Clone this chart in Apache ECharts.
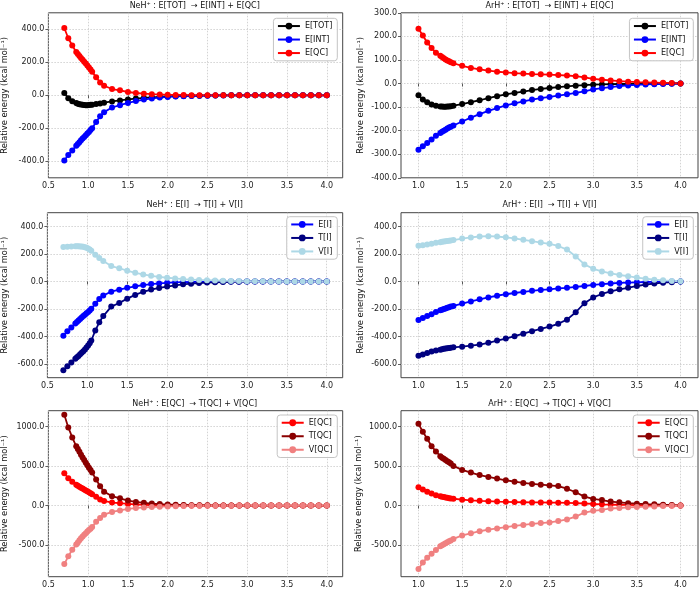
<!DOCTYPE html>
<html><head><meta charset="utf-8">
<script src="https://cdn.jsdelivr.net/npm/echarts@6/dist/echarts.min.js"></script>
<style>html,body{margin:0;padding:0;background:#fff}#c{width:700px;height:589px}</style>
</head><body><div id="c"></div>
<script>
// ---------- data ----------
const xNeH = [0.7,0.75,0.8,0.85,0.87,0.89,0.91,0.93,0.95,0.97,0.99,1.01,1.03,1.05,1.1,1.15,1.2,
  1.3,1.4,1.5,1.6,1.7,1.8,1.9,2.0,2.1,2.2,2.3,2.4,2.5,2.6,2.7,2.8,2.9,3.0,3.1,3.2,3.3,3.4,3.5,3.6,3.7,3.8,3.9,4.0];
const xArH = [1.0,1.05,1.1,1.15,1.2,1.25,1.27,1.29,1.31,1.33,1.35,1.37,1.4,
  1.5,1.6,1.7,1.8,1.9,2.0,2.1,2.2,2.3,2.4,2.5,2.6,2.7,2.8,2.9,3.0,3.1,3.2,3.3,3.4,3.5,3.6,3.7,3.8,3.9,4.0];

// NeH+
const nehTOT = [14,-18,-36,-47,-51,-54,-56,-58,-59,-60,-60,-59,-58,-57,-53,-49,-45,
  -37,-31,-25,-20,-16,-12,-9,-7,-5,-4,-3,-2,-1,-1,0,0,0,0,0,0,0,0,0,0,0,0,0,0];
const nehINT = [-395,-362,-334,-306,-295,-284,-273,-262,-252,-242,-232,-222,-211,-199,-162,-127,-102,
  -74,-60,-46,-35,-26,-19,-14,-10,-7,-5,-4,-3,-2,-1,-1,0,0,0,0,0,0,0,0,0,0,0,0,0];
const nehQC = [408,346,302,262,250,238,226,215,204,192,180,168,156,143,110,78,58,
  38,30,20,14,10,7,5,3,2,2,1,1,0,0,0,0,0,0,0,0,0,0,0,0,0,0,0,0];
const nehTI = [-646,-617,-590,-562,-552,-542,-530,-519,-507,-494,-480,-466,-450,-430,-357,-297,-252,
  -183,-157,-125,-98,-75,-59,-47,-37,-29,-21,-16,-12,-8,-6,-4,-3,-2,-1,0,0,0,0,0,0,0,0,0,0];
const nehVI = [250,253,255,256,256,256,255,254,252,249,245,240,233,224,195,170,148,
  112,96,78,63,51,41,33,27,22,17,14,11,9,7,5,4,3,2,1,1,0,0,0,0,0,0,0,0];
const nehTQC = [1148,988,862,750,716,680,643,608,575,542,510,479,449,417,330,245,176,
  118,92,63,46,34,25,19,14,10,8,5,4,3,2,2,1,1,0,0,0,0,0,0,0,0,0,0,0];
const nehVQC = [-740,-642,-560,-494,-466,-440,-415,-392,-370,-349,-329,-310,-292,-272,-205,-158,-115,
  -80,-62,-43,-32,-24,-18,-14,-11,-8,-6,-4,-3,-2,-2,-1,-1,0,0,0,0,0,0,0,0,0,0,0,0];

// ArH+
const arhTOT = [-50,-68,-80,-89,-94,-97,-98,-99,-99,-98,-97,-96,-94,
  -87,-79,-71,-62,-54,-46,-40,-34,-28,-23,-19,-15,-12,-9,-7,-5,-4,-3,-2,-2,-1,-1,-1,0,0,0];
const arhINT = [-281,-266,-252,-238,-222,-210,-205,-200,-196,-191,-187,-183,-178,
  -161,-145,-130,-116,-104,-93,-84,-76,-68,-62,-57,-51,-46,-40,-33,-25,-20,-15,-11,-8,-6,-4,-3,-2,-1,0];
const arhQC = [232,204,174,151,130,118,112,107,102,98,94,90,86,
  75,66,60,55,50,47,44,42,40,39,38,36,34,31,26,20,16,13,10,8,6,5,4,3,2,0];
const arhTI = [-540,-532,-521,-510,-503,-496,-493,-490,-488,-486,-484,-482,-479,
  -474,-467,-459,-446,-430,-415,-398,-380,-362,-345,-328,-308,-278,-224,-158,-116,-91,-72,-57,-46,-33,-23,-15,-9,-5,-1];
const arhVI = [259,263,268,274,282,286,288,290,292,294,296,298,301,
  312,320,327,329,327,321,313,303,293,283,274,258,232,182,124,92,73,58,47,38,28,20,13,8,4,1];
const arhTQC = [1035,933,846,751,684,624,606,591,577,562,547,532,502,
  451,417,385,362,341,320,302,286,273,264,255,246,213,168,113,84,70,50,41,30,24,19,15,10,6,1];
const arhVQC = [-803,-721,-660,-610,-562,-514,-502,-490,-477,-464,-452,-441,-422,
  -378,-351,-325,-305,-290,-274,-258,-245,-233,-222,-213,-196,-176,-140,-88,-66,-55,-37,-31,-22,-18,-14,-11,-7,-4,-1];

// tick labels
const xTicksNeH = [0.5,1.0,1.5,2.0,2.5,3.0,3.5,4.0];
const xTicksArH = [1.0,1.5,2.0,2.5,3.0,3.5,4.0];
const yTicksTopNeH = [-400,-200,0,200,400];
const yTicksTopArH = [-400,-300,-200,-100,0,100,200,300];
const yTicksMid = [-600,-400,-200,0,200,400];
const yTicksBot = [-500,0,500,1000];

const titles = [
  'NeH\u207A : E[TOT]  \u2192 E[INT] + E[QC]',
  'ArH\u207A : E[TOT]  \u2192 E[INT] + E[QC]',
  'NeH\u207A : E[I]  \u2192 T[I] + V[I]',
  'ArH\u207A : E[I]  \u2192 T[I] + V[I]',
  'NeH\u207A : E[QC]  \u2192 T[QC] + V[QC]',
  'ArH\u207A : E[QC]  \u2192 T[QC] + V[QC]'
];
const yName = 'Relative energy (kcal mol\u207B\u00B9)';

// ---------- layout ----------
const FONT = 'DejaVu Sans';
const cols = [
  {left: 46.7, width: 296, xmin: 0.5, xmax: 4.2, xt: xTicksNeH, cx: 194.7, legRight: 362.7},
  {left: 401, width: 297, xmin: 0.8, xmax: 4.2, xt: xTicksArH, cx: 549.5, legRight: 6.7}
];
const rows = [
  {top: 12.8, height: 165, ty: 6, legTop: 18.3},
  {top: 212.7, height: 165, ty: 205, legTop: 216.7},
  {top: 410.7, height: 166, ty: 404.3, legTop: 415}
];
const panels = [
  {r:0,c:0,ymin:-500,ymax:500,yt:yTicksTopNeH,gap:39.4,x:xNeH,s:[['E[TOT]',nehTOT,'#000000'],['E[INT]',nehINT,'#0000ff'],['E[QC]',nehQC,'#ff0000']]},
  {r:0,c:1,ymin:-400,ymax:300,yt:yTicksTopArH,gap:36,x:xArH,s:[['E[TOT]',arhTOT,'#000000'],['E[INT]',arhINT,'#0000ff'],['E[QC]',arhQC,'#ff0000']]},
  {r:1,c:0,ymin:-700,ymax:500,yt:yTicksMid,gap:38.4,x:xNeH,s:[['E[I]',nehINT,'#0000ff'],['T[I]',nehTI,'#000080'],['V[I]',nehVI,'#add8e6']]},
  {r:1,c:1,ymin:-700,ymax:500,yt:yTicksMid,gap:36,x:xArH,s:[['E[I]',arhINT,'#0000ff'],['T[I]',arhTI,'#000080'],['V[I]',arhVI,'#add8e6']]},
  {r:2,c:0,ymin:-900,ymax:1200,yt:yTicksBot,gap:39.4,x:xNeH,s:[['E[QC]',nehQC,'#ff0000'],['T[QC]',nehTQC,'#8b0000'],['V[QC]',nehVQC,'#f08080']]},
  {r:2,c:1,ymin:-900,ymax:1200,yt:yTicksBot,gap:37.7,x:xArH,s:[['E[QC]',arhQC,'#ff0000'],['T[QC]',arhTQC,'#8b0000'],['V[QC]',arhVQC,'#f08080']]}
];

const grid = [], xAxis = [], yAxis = [], series = [], legend = [], graphic = [];
const tickStyle = {color: '#333', width: 0.8};
const splitStyle = {color: '#c8c8c8', width: 0.8, type: [1.5, 1.5]};
panels.forEach((p, i) => {
  const col = cols[p.c], row = rows[p.r];
  grid.push({left: col.left, top: row.top, width: col.width, height: row.height,
    show: true, borderColor: '#444', borderWidth: 1, backgroundColor: '#fff', containLabel: false});
  xAxis.push({type: 'value', gridIndex: i, min: col.xmin, max: col.xmax,
    axisLine: {show: false},
    axisTick: {show: true, length: 3, lineStyle: tickStyle, customValues: col.xt},
    axisLabel: {customValues: col.xt, formatter: v => v.toFixed(1), fontSize: 8, fontFamily: FONT, color: '#222', margin: 4},
    splitLine: {show: true, lineStyle: splitStyle}});
  yAxis.push({type: 'value', gridIndex: i, min: p.ymin, max: p.ymax,
    name: yName, nameLocation: 'middle', nameRotate: 90, nameGap: p.gap,
    nameTextStyle: {fontSize: 8.3, fontFamily: FONT, color: '#111'},
    axisLine: {show: false},
    axisTick: {show: true, length: 3, lineStyle: tickStyle, customValues: p.yt},
    axisLabel: {customValues: p.yt, formatter: v => v.toFixed(1), fontSize: 8, fontFamily: FONT, color: '#222', margin: 4},
    splitLine: {show: true, lineStyle: splitStyle}});
  p.s.forEach(([name, ys, color]) => {
    series.push({type: 'line', name, xAxisIndex: i, yAxisIndex: i,
      data: p.x.map((xv, k) => [xv, ys[k]]),
      symbol: 'circle', symbolSize: 6, showSymbol: true,
      itemStyle: {color}, lineStyle: {color, width: 1.8},
      emphasis: {disabled: true}, animation: false});
  });
  legend.push({orient: 'vertical', right: col.legRight, top: row.legTop,
    data: p.s.map(s => s[0]), itemWidth: 22, itemHeight: 8.5, itemGap: 5.5,
    padding: [3.75, 5, 3.75, 3.5], borderColor: '#c4c4c4', borderWidth: 1, borderRadius: 3,
    backgroundColor: 'rgba(255,255,255,0.85)', selectedMode: false,
    textStyle: {fontSize: 8, fontFamily: FONT, color: '#111'}});
  graphic.push({type: 'text', x: col.cx, y: row.ty, silent: true,
    style: {text: titles[i], font: '8px "DejaVu Sans"', fill: '#111', align: 'center', verticalAlign: 'middle'}});
});

const chart = echarts.init(document.getElementById('c'), null, {renderer: 'canvas'});
chart.setOption({animation: false, backgroundColor: '#fff', grid, xAxis, yAxis, series, legend, graphic});
</script></body></html>
